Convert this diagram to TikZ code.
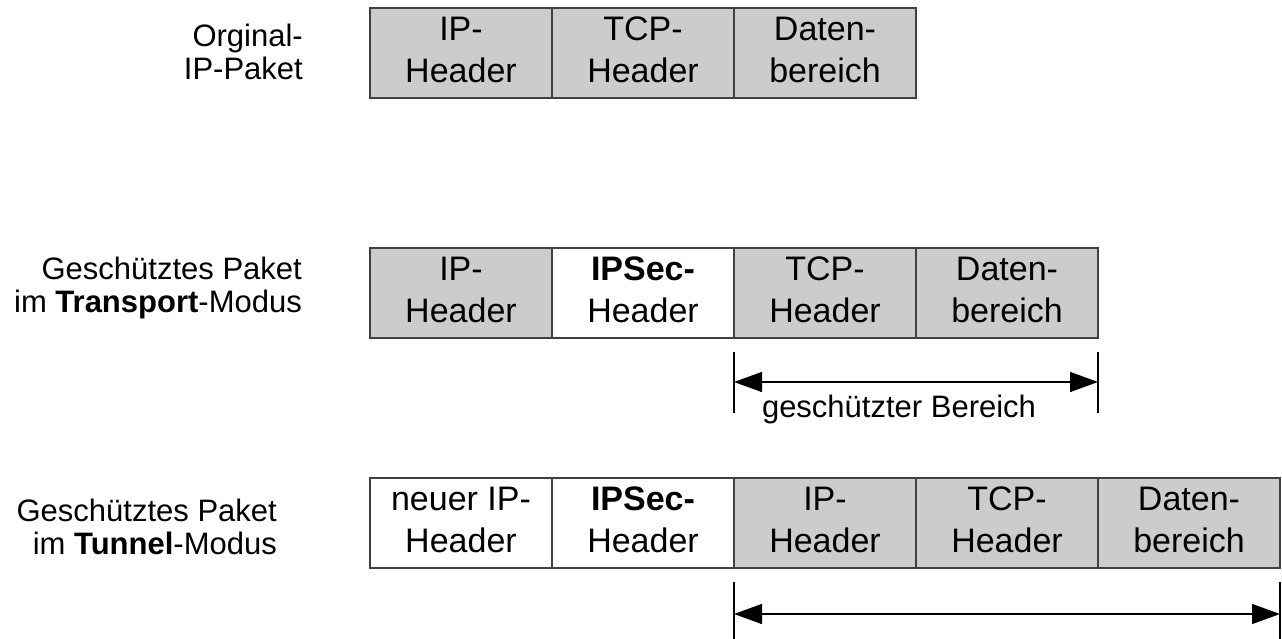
\documentclass[tikz,border=0pt]{standalone}
\usepackage{fontspec}
\setmainfont{Liberation Sans}
\usetikzlibrary{arrows.meta}
\definecolor{cellgray}{RGB}{204,204,204}
\definecolor{edgegray}{RGB}{64,64,64}
\begin{document}
\begin{tikzpicture}[x=1pt,y=-1pt,
 cell/.style={draw=edgegray,line width=1.5pt,minimum width=182pt,minimum height=90pt,inner sep=0pt,outer sep=0pt,align=center,font=\fontsize{34}{42}\selectfont,text depth=6pt},
 graycell/.style={cell,fill=cellgray},
 whitecell/.style={cell,fill=white},
 lbl/.style={anchor=east,inner sep=0pt,align=right,font=\fontsize{31}{33}\selectfont},
 tickline/.style={line width=1.5pt},
 dim/.style={line width=1.5pt,{Triangle[length=28pt,width=20pt]}-{Triangle[length=28pt,width=20pt]}}]
\useasboundingbox (0,0) rectangle (1282,638);
% row 1
\node[graycell] (a1) at (461,53) {IP-\\Header};
\node[graycell] (a2) at (643,53) {TCP-\\Header};
\node[graycell] (a3) at (825,53) {Daten-\\bereich};
% row 2
\node[graycell] (b1) at (461,293) {IP-\\Header};
\node[whitecell] (b2) at (643,293) {\textbf{IPSec-}\\Header};
\node[graycell] (b3) at (825,293) {TCP-\\Header};
\node[graycell] (b4) at (1007,293) {Daten-\\bereich};
% row 3
\node[whitecell] (c1) at (461,523) {neuer IP-\\Header};
\node[whitecell] (c2) at (643,523) {\textbf{IPSec-}\\Header};
\node[graycell] (c3) at (825,523) {IP-\\Header};
\node[graycell] (c4) at (1007,523) {TCP-\\Header};
\node[graycell] (c5) at (1189,523) {Daten-\\bereich};
% labels
\node[lbl] (l1) at (303,52.4) {Orginal-\\IP-Paket};
\node[lbl] (l2) at (302,287.6) {Geschütztes Paket\\im \textbf{Transport}-Modus};
\node[lbl] (l3) at (277,527.4) {Geschütztes Paket\\im \textbf{Tunnel}-Modus};
% transport range
\draw[tickline] ([yshift=-14pt]b3.south west) -- ++(0,61);
\draw[tickline] ([yshift=-14pt]b4.south east) -- ++(0,61);
\draw[dim] ([yshift=-44pt]b3.south west) -- ([yshift=-44pt]b4.south east);
\node[font=\fontsize{31}{33}\selectfont,anchor=base,inner sep=0pt] (bt) at (899,417) {geschützter Bereich};
% tunnel range
\draw[tickline] ([yshift=-14pt]c3.south west) -- ++(0,60);
\draw[tickline] ([yshift=-14pt]c5.south east) -- ++(0,60);
\draw[dim] ([yshift=-46pt]c3.south west) -- ([yshift=-46pt]c5.south east);
\end{tikzpicture}
\end{document}
